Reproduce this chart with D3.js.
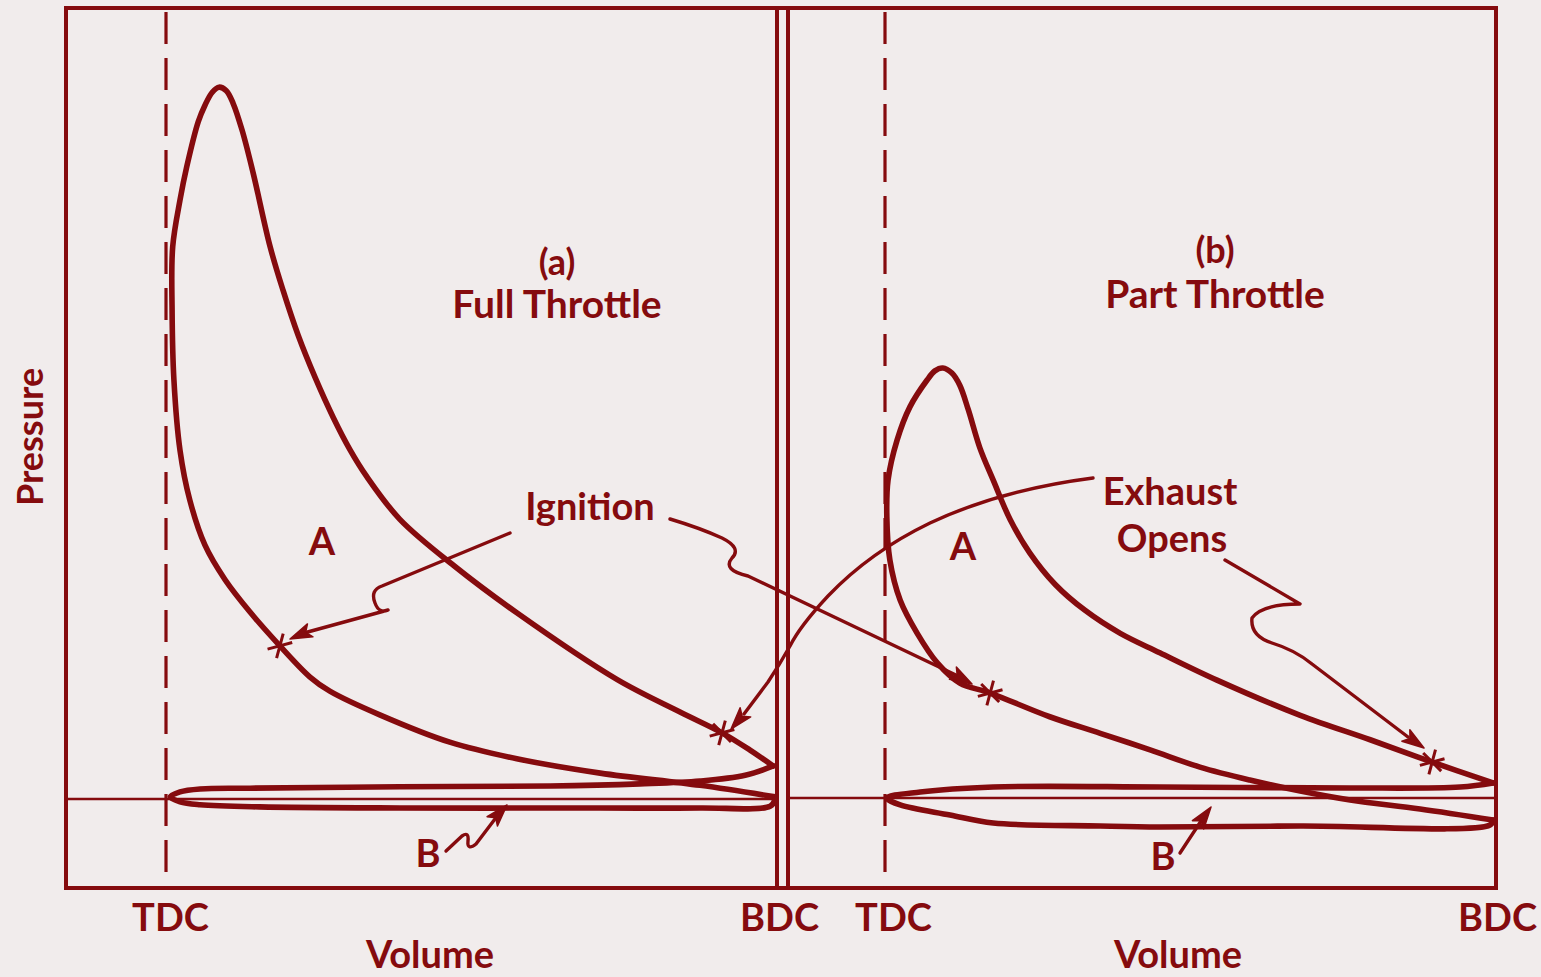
<!DOCTYPE html>
<html><head><meta charset="utf-8">
<script src="https://cdn.jsdelivr.net/npm/d3@7"></script>
<style>
html,body{margin:0;padding:0;background:#f1ecec;}
svg{display:block;}
text{font-family:Lato,"Open Sans",sans-serif;font-weight:700;fill:#850b0e;}
</style></head><body>
<svg id="chart" width="1541" height="977"></svg>
<script>
// ---------------- DATA ----------------
const volumeTicks = [0, 100];
const tickLabels = ["TDC", "BDC"];
const panelTitles = [["(a)", "Full Throttle"], ["(b)", "Part Throttle"]];

// (a) Full throttle: compression -> combustion -> expansion  [volume %, pressure %]
const fullCycle = [
  [100.0,0.3],[87.7,1.9],[71.3,3.6],[57.6,5.6],[46.6,7.9],[35.1,11.7],[26.9,15.0],[23.6,17.0],
  [18.7,21.3],[13.8,26.0],[9.7,30.5],[6.4,35.3],[3.9,41.6],[2.3,48.5],[1.3,58.3],[1.0,68.0],
  [1.1,76.8],[2.3,83.3],[3.4,87.9],[5.3,94.2],[6.4,96.5],[7.6,98.3],[8.7,99.0],[9.9,98.5],
  [11.0,96.8],[12.5,93.0],[14.3,87.1],[17.1,76.8],[19.2,70.8],[21.7,64.5],[24.5,58.6],[27.5,53.0],
  [30.2,48.6],[33.0,44.8],[38.4,38.9],[47.5,32.3],[57.6,25.9],[74.1,16.6],[84.4,12.1],[91.3,9.2],
  [95.9,6.8],[99.7,4.6]
];
// (a) pumping loop: exhaust then intake
const fullPump = [
  [99.7,4.6],[95.1,3.3],[87.7,2.5],[77.8,2.1],[63.1,1.8],[38.4,1.7],[13.8,1.5],[5.6,1.4],[2.3,1.0],
  [0.7,0.3],[2.3,-0.4],[5.6,-0.8],[15.4,-1.1],[38.4,-1.25],[71.3,-1.25],[87.7,-1.25],[99.2,-1.0],[100,-0.1]
];
// (b) Part throttle
const partCycle = [
  [100,-3.06],[88.0,-1.53],[76.5,-0.28],[68.3,0.97],[60.0,2.5],[51.8,4.3],[43.6,6.7],[35.4,9.0],
  [27.1,11.3],[17.3,14.6],[12.3,16.0],[8.6,18.8],[5.3,22.9],[2.5,27.5],[0.8,33.1],[0.3,39.1],
  [0.5,44.2],[2.0,49.8],[4.1,54.4],[6.9,58.1],[8.2,59.4],[9.5,59.8],[11.0,59.1],[12.3,57.4],
  [13.7,54.0],[15.6,48.7],[17.8,44.2],[20.6,38.7],[23.8,34.1],[28.0,29.7],[32.9,26.1],[38.7,22.9],
  [45.2,20.2],[54.6,16.4],[68.3,11.5],[79.8,8.1],[90.0,5.0],[100,2.1]
];
const partPump = [
  [100,2.1],[94.6,1.53],[76.5,1.39],[45.2,1.53],[17.8,1.53],[5.8,0.83],[0.3,0],[2.5,-0.97],
  [10.7,-2.36],[17.8,-3.48],[35.4,-3.89],[45.2,-4.03],[68.3,-3.89],[99.5,-3.76],[100,-3.06]
];
// event markers: ignition, exhaust opens
const fullEvents = [[18.7,21.3],[91.3,9.2]];
const partEvents = [[17.3,14.6],[90.0,5.0]];

// ---------------- LAYOUT ----------------
const ink = "#850b0e";
const svg = d3.select("#chart");
const frame = {top: 8, bottom: 888, left: 66, div1: 777, div2: 788, right: 1496};
const panels = [
  {x: d3.scaleLinear().domain([0,100]).range([166,775]),
   y: d3.scaleLinear().domain([0,100]).range([799,80]),
   cycle: fullCycle, pump: fullPump, events: fullEvents,
   l: frame.left, r: frame.div1, title: panelTitles[0], tx: 557, ty: [275, 318],
   tickDx: [4, 4], volX: 430},
  {x: d3.scaleLinear().domain([0,100]).range([885,1493]),
   y: d3.scaleLinear().domain([0,100]).range([798,79]),
   cycle: partCycle, pump: partPump, events: partEvents,
   l: frame.div2, r: frame.right, title: panelTitles[1], tx: 1215, ty: [263, 308],
   tickDx: [8, 4], volX: 1178}
];

// frame
const fr = svg.append("g").attr("stroke", ink).attr("fill","none").attr("stroke-width",4).attr("stroke-linecap","square");
fr.append("line").attr("x1",frame.left).attr("x2",frame.right).attr("y1",frame.top).attr("y2",frame.top);
fr.append("line").attr("x1",frame.left).attr("x2",frame.right).attr("y1",frame.bottom).attr("y2",frame.bottom);
[frame.left, frame.div1, frame.div2, frame.right].forEach(x =>
  fr.append("line").attr("x1",x).attr("x2",x).attr("y1",frame.top).attr("y2",frame.bottom));

panels.forEach(P => {
  const g = svg.append("g");
  // TDC dashed
  g.append("line").attr("x1",P.x(0)).attr("x2",P.x(0)).attr("y1",frame.top+4).attr("y2",frame.bottom)
    .attr("stroke",ink).attr("stroke-width",3.2).attr("stroke-dasharray","32,14");
  // atmospheric baseline
  g.append("line").attr("x1",P.l).attr("x2",P.r).attr("y1",P.y(0)).attr("y2",P.y(0))
    .attr("stroke",ink).attr("stroke-width",2.6);
  const line = d3.line().x(d=>P.x(d[0])).y(d=>P.y(d[1])).curve(d3.curveCatmullRom.alpha(0.5));
  g.append("path").datum(P.cycle).attr("d",line).attr("fill","none").attr("stroke",ink)
    .attr("stroke-width",5.6).attr("stroke-linejoin","round").attr("stroke-linecap","round");
  g.append("path").datum(P.pump).attr("d",line).attr("fill","none").attr("stroke",ink)
    .attr("stroke-width",5.6).attr("stroke-linejoin","round").attr("stroke-linecap","round");
  // event stars
  g.selectAll(".star").data(P.events).join("path")
    .attr("transform",d=>`translate(${P.x(d[0])},${P.y(d[1])}) rotate(15)`)
    .attr("d", d3.symbol(d3.symbolAsterisk).size(460))
    .attr("stroke",ink).attr("stroke-width",3).attr("fill","none");
  // axis TDC / BDC
  const ax = d3.axisBottom(P.x).tickValues(volumeTicks).tickFormat((d,i)=>tickLabels[i]).tickSize(0).tickPadding(0);
  const ag = g.append("g").attr("transform",`translate(0,${frame.bottom})`).call(ax);
  ag.select(".domain").remove();
  ag.selectAll("text").attr("font-size",38).attr("fill",ink).attr("font-family","Lato")
    .attr("font-weight",700).attr("dy",null).attr("y",43).attr("dx",(d,i)=>P.tickDx[i]);
  g.append("text").attr("x",P.volX).attr("y",968).attr("text-anchor","middle").attr("font-size",38).text("Volume");
  // titles
  g.append("text").attr("x",P.tx).attr("y",P.ty[0]).attr("text-anchor","middle").attr("font-size",36).text(P.title[0]);
  g.append("text").attr("x",P.tx).attr("y",P.ty[1]).attr("text-anchor","middle").attr("font-size",39).text(P.title[1]);
});

// Pressure label
svg.append("text").attr("transform","translate(43,437) rotate(-90)").attr("text-anchor","middle")
  .attr("font-size",36).text("Pressure");

// annotation labels
const labels = [
  ["Ignition",590,520],["Exhaust",1170,505],["Opens",1172,552],
  ["A",322,555],["A",963,560],["B",428,867],["B",1163,870]
];
svg.selectAll(".lab").data(labels).join("text").attr("x",d=>d[1]).attr("y",d=>d[2])
  .attr("text-anchor","middle").attr("font-size",38).text(d=>d[0]);

// annotation arrows (leader paths + heads)
const arrows = [
  {d:"M510,533 L382,586 Q370,590 375,603 Q379,614 388,610 L304,633", tip:[290,639]},
  {d:"M670,519 Q700,528 722,538 Q742,548 732,558 Q722,570 748,576 L958,676", tip:[972,684]},
  {d:"M1093,478 Q1000,490 930,523 Q870,552 828,596 Q800,626 790,646 Q780,664 768,682 L744,714", tip:[731,729]},
  {d:"M1225,560 L1300,604 Q1262,604 1252,618 Q1250,636 1272,643 Q1295,650 1312,664 L1408,737", tip:[1424,748]},
  {d:"M446,851 L462,836 Q469,831 468,841 Q467,851 476,844 L498,815", tip:[507,805]},
  {d:"M1180,853 L1203,818", tip:[1211,807]}
];
const ag = svg.append("g");
arrows.forEach(a => {
  ag.append("path").attr("d",a.d).attr("fill","none").attr("stroke",ink).attr("stroke-width",3.4)
    .attr("stroke-linecap","round").attr("stroke-linejoin","round");
  const nums = a.d.match(/-?\d+(\.\d+)?/g).map(Number);
  const lx = nums[nums.length-2], ly = nums[nums.length-1];
  const ang = Math.atan2(a.tip[1]-ly, a.tip[0]-lx);
  ag.append("path").attr("d","M0,0 L-22,-7 L-17,0 L-22,7 Z")
    .attr("transform",`translate(${a.tip[0]},${a.tip[1]}) rotate(${ang*180/Math.PI})`)
    .attr("fill",ink).attr("stroke",ink).attr("stroke-width",1.5).attr("stroke-linejoin","round");
});
</script>
</body></html>
